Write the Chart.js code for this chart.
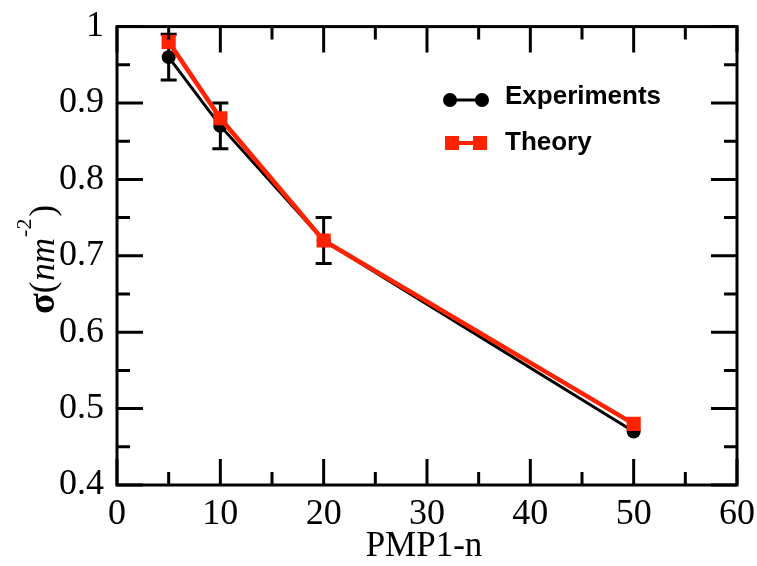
<!DOCTYPE html>
<html>
<head>
<meta charset="utf-8">
<script src="https://cdn.jsdelivr.net/npm/chart.js@4/dist/chart.umd.min.js"></script>
<style>
  html, body { margin: 0; padding: 0; background: #fff; }
  #wrap { width: 757px; height: 566px; }
</style>
</head>
<body>
<div id="wrap"><canvas id="myChart" width="757" height="566"></canvas></div>
<script>
"use strict";

// data
const nValues = [5, 10, 20, 50];
const experiments = [0.96, 0.87, 0.72, 0.47];
const experimentsErr = [0.03, 0.03, 0.03, 0];
const theory = [0.98, 0.88, 0.72, 0.48];
const xTicks = [0, 10, 20, 30, 40, 50, 60];
const yTicks = [0.4, 0.5, 0.6, 0.7, 0.8, 0.9, 1];

const RED = '#ff2200';
const serif = '"Liberation Serif", "DejaVu Serif", serif';

function toPoints(ys) {
    return nValues.map((x, i) => ({x: x, y: ys[i]}));
}

// frame, inward ticks, error bars, legend and axis titles
const decor = {
    id: 'decor',
    beforeDatasetsDraw(chart) {
        const ctx = chart.ctx;
        const xs = chart.scales.x, ys = chart.scales.y;
        ctx.save();
        ctx.strokeStyle = '#000';
        ctx.lineWidth = 3;
        nValues.forEach((n, i) => {
            const e = experimentsErr[i];
            if (!e) return;
            const px = xs.getPixelForValue(n);
            const top = ys.getPixelForValue(experiments[i] + e);
            const bot = ys.getPixelForValue(experiments[i] - e);
            ctx.beginPath();
            ctx.moveTo(px, top); ctx.lineTo(px, bot);
            ctx.moveTo(px - 8, top); ctx.lineTo(px + 8, top);
            ctx.moveTo(px - 8, bot); ctx.lineTo(px + 8, bot);
            ctx.stroke();
        });
        ctx.restore();
    },
    afterDraw(chart) {
        const ctx = chart.ctx;
        const a = chart.chartArea;
        const xs = chart.scales.x, ys = chart.scales.y;
        ctx.save();
        ctx.strokeStyle = '#000';
        ctx.lineWidth = 3;
        ctx.strokeRect(a.left, a.top, a.right - a.left, a.bottom - a.top);

        // x ticks (bottom and top), major every 10, minor every 5
        ctx.beginPath();
        for (let v = 0; v <= 60; v += 5) {
            const px = xs.getPixelForValue(v);
            const len = v % 10 === 0 ? 26 : 13;
            ctx.moveTo(px, a.bottom); ctx.lineTo(px, a.bottom - len);
            ctx.moveTo(px, a.top); ctx.lineTo(px, a.top + len);
        }
        // y ticks (left and right), major every 0.1, minor every 0.05
        for (let k = 0; k <= 12; k++) {
            const py = ys.getPixelForValue(0.4 + k * 0.05);
            const len = k % 2 === 0 ? 26 : 13;
            ctx.moveTo(a.left, py); ctx.lineTo(a.left + len, py);
            ctx.moveTo(a.right, py); ctx.lineTo(a.right - len, py);
        }
        ctx.stroke();

        // legend
        const lx = 445, lx2 = 487;
        ctx.lineWidth = 3;
        ctx.strokeStyle = '#000';
        ctx.fillStyle = '#000';
        ctx.beginPath(); ctx.moveTo(lx, 100); ctx.lineTo(lx2, 100); ctx.stroke();
        [lx + 5, lx2 - 5].forEach(cx => {
            ctx.beginPath(); ctx.arc(cx, 100, 7, 0, Math.PI * 2); ctx.fill();
        });
        ctx.strokeStyle = RED;
        ctx.fillStyle = RED;
        ctx.lineWidth = 4;
        ctx.beginPath(); ctx.moveTo(lx, 143); ctx.lineTo(lx2, 143); ctx.stroke();
        [lx + 7, lx2 - 7].forEach(cx => { ctx.fillRect(cx - 7, 143 - 7, 14, 14); });

        ctx.fillStyle = '#000';
        ctx.font = 'bold 26px "Liberation Sans", Arial, sans-serif';
        ctx.textAlign = 'left';
        ctx.textBaseline = 'middle';
        ctx.fillText('Experiments', 505, 97);
        ctx.fillText('Theory', 505, 143);

        // x title
        ctx.font = '35px ' + serif;
        ctx.textAlign = 'center';
        ctx.textBaseline = 'alphabetic';
        ctx.fillText('PMP1-n', 424, 556);

        // y title, rotated
        ctx.translate(54, 314);
        ctx.rotate(-Math.PI / 2);
        ctx.textAlign = 'left';
        let x = 0;
        ctx.font = 'bold 38px ' + serif;
        ctx.fillText('σ', x, 0); x += ctx.measureText('σ').width;
        ctx.font = '35px ' + serif;
        ctx.fillText('(', x, 0); x += ctx.measureText('(').width + 1;
        ctx.font = 'italic 35px ' + serif;
        ctx.fillText('nm', x, 0); x += ctx.measureText('nm').width + 1;
        ctx.font = '22px ' + serif;
        ctx.fillText('-2', x, -23); x += ctx.measureText('-2').width + 2;
        ctx.font = '35px ' + serif;
        ctx.fillText(')', x, 0);
        ctx.restore();
    }
};

const ctx = document.getElementById('myChart').getContext('2d');
const chart = new Chart(ctx, {
    type: 'line',
    data: {
        datasets: [
            {
                label: 'Experiments',
                data: toPoints(experiments),
                borderColor: '#000',
                backgroundColor: '#000',
                borderWidth: 3,
                pointStyle: 'circle',
                pointRadius: 7,
                pointBorderWidth: 0,
                tension: 0,
                order: 2
            },
            {
                label: 'Theory',
                data: toPoints(theory),
                borderColor: RED,
                backgroundColor: RED,
                borderWidth: 4.5,
                pointStyle: 'rect',
                pointRadius: 10,
                pointBorderWidth: 0,
                tension: 0,
                order: 1
            }
        ]
    },
    options: {
        responsive: false,
        animation: false,
        layout: {padding: {left: 0, right: 20, top: 24, bottom: 0}},
        plugins: {
            legend: {display: false},
            tooltip: {enabled: false}
        },
        scales: {
            x: {
                type: 'linear',
                min: 0,
                max: 60,
                afterFit(scale) { scale.height = 81; },
                afterBuildTicks(scale) { scale.ticks = xTicks.map(v => ({value: v})); },
                grid: {display: false},
                border: {display: false},
                ticks: {
                    color: '#000',
                    font: {family: serif, size: 36},
                    padding: 0,
                    maxRotation: 0
                }
            },
            y: {
                type: 'linear',
                min: 0.4,
                max: 1,
                afterFit(scale) { scale.width = 117; },
                afterBuildTicks(scale) { scale.ticks = yTicks.map(v => ({value: v})); },
                grid: {display: false},
                border: {display: false},
                ticks: {
                    color: '#000',
                    font: {family: serif, size: 36},
                    padding: 5,
                    callback: v => (v === 1 ? '1' : v.toFixed(1))
                }
            }
        }
    },
    plugins: [decor]
});
</script>
</body>
</html>
